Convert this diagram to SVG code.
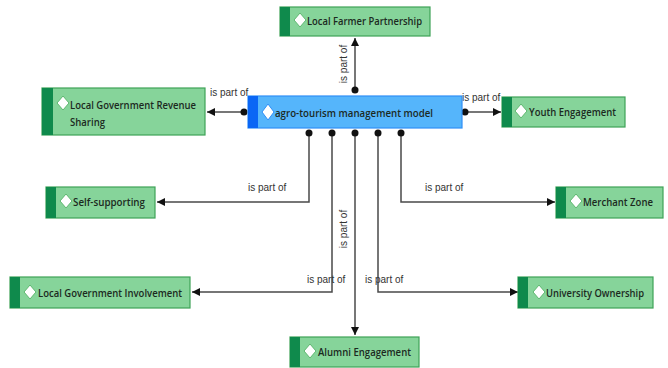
<svg xmlns="http://www.w3.org/2000/svg" width="668" height="368" viewBox="0 0 668 368">
<style>
.g{fill:#86d49a;stroke:#3fa257;stroke-width:1.2}
.gs{fill:#0f8a4c}
.b{fill:#55b5fb;stroke:#2f8ff7;stroke-width:1.2}
.bs{fill:#0a66f5}
.d{fill:#fff;stroke:#5fb870;stroke-width:1}
.db{fill:#fff;stroke:#2f8ff7;stroke-width:1}
.t{font-family:"Open Sans","Liberation Sans",Arial,sans-serif;font-weight:600;font-size:11px;fill:#1c2a1f;dominant-baseline:central}
.c{fill:none;stroke:#4a4a4a;stroke-width:1.5}
.l{font-family:"Liberation Sans",Arial,sans-serif;font-size:10px;fill:#333}
.p{fill:#111}
</style>
<defs>
<marker id="ah" viewBox="0 0 8 8" refX="8" refY="4" markerWidth="8" markerHeight="8" markerUnits="userSpaceOnUse" orient="auto"><path d="M0,0 L8,4 L0,8 z" fill="#111"/></marker>
</defs>
<g id="connectors">
<path class="c" d="M355,90 V38" marker-end="url(#ah)"/>
<circle class="p" cx="355" cy="90" r="3.5"/>
<text class="l" transform="translate(347,64) rotate(-90)" text-anchor="middle">is part of</text>
<path class="c" d="M244,112 H207" marker-end="url(#ah)"/>
<circle class="p" cx="244" cy="112" r="3.5"/>
<text class="l" x="210" y="96">is part of</text>
<path class="c" d="M465,112 H501" marker-end="url(#ah)"/>
<circle class="p" cx="465" cy="112" r="3.5"/>
<text class="l" x="462" y="101">is part of</text>
<path class="c" d="M309,133 V202 H157" marker-end="url(#ah)"/>
<circle class="p" cx="309" cy="133" r="3.5"/>
<text class="l" x="248" y="191">is part of</text>
<path class="c" d="M401,133 V202 H555" marker-end="url(#ah)"/>
<circle class="p" cx="401" cy="133" r="3.5"/>
<text class="l" x="425" y="191">is part of</text>
<path class="c" d="M332,133 V292 H192" marker-end="url(#ah)"/>
<circle class="p" cx="332" cy="133" r="3.5"/>
<text class="l" x="307" y="283">is part of</text>
<path class="c" d="M378,133 V292 H518" marker-end="url(#ah)"/>
<circle class="p" cx="378" cy="133" r="3.5"/>
<text class="l" x="365" y="283">is part of</text>
<path class="c" d="M355,133 V335" marker-end="url(#ah)"/>
<circle class="p" cx="355" cy="133" r="3.5"/>
<text class="l" transform="translate(347,229) rotate(-90)" text-anchor="middle">is part of</text>
</g>
<g id="main">
<rect class="b" x="248" y="96" width="214" height="32"/>
<rect class="bs" x="248" y="96" width="10" height="32"/>
<path class="db" d="M268,104 L274,112 L268,120 L262,112 z"/>
<text class="t" x="275" y="112" textLength="158" lengthAdjust="spacingAndGlyphs">agro-tourism management model</text>
</g>
<g id="n-farmer">
<rect class="g" x="280" y="7" width="150" height="29"/>
<rect class="gs" x="280" y="7" width="10" height="29"/>
<path class="d" d="M300,13 L306,20 L300,27 L294,20 z"/>
<text class="t" x="307" y="20" textLength="115" lengthAdjust="spacingAndGlyphs">Local Farmer Partnership</text>
</g>
<g id="n-revenue">
<rect class="g" x="42" y="88" width="163" height="47"/>
<rect class="gs" x="42" y="88" width="11" height="47"/>
<path class="d" d="M63,96 L69,103 L63,110 L57,103 z"/>
<text class="t" x="70" y="104" textLength="126" lengthAdjust="spacingAndGlyphs">Local Government Revenue</text>
<text class="t" x="70" y="121" textLength="35" lengthAdjust="spacingAndGlyphs">Sharing</text>
</g>
<g id="n-youth">
<rect class="g" x="502" y="97" width="123" height="30"/>
<rect class="gs" x="502" y="97" width="10" height="30"/>
<path class="d" d="M521,104 L527,111 L521,118 L515,111 z"/>
<text class="t" x="529" y="111" textLength="87" lengthAdjust="spacingAndGlyphs">Youth Engagement</text>
</g>
<g id="n-self">
<rect class="g" x="46" y="187" width="109" height="31"/>
<rect class="gs" x="46" y="187" width="10" height="31"/>
<path class="d" d="M66,194 L72,201 L66,208 L60,201 z"/>
<text class="t" x="73" y="201" textLength="72" lengthAdjust="spacingAndGlyphs">Self-supporting</text>
</g>
<g id="n-merchant">
<rect class="g" x="556" y="187" width="107" height="31"/>
<rect class="gs" x="556" y="187" width="10" height="31"/>
<path class="d" d="M576,194 L582,201 L576,208 L570,201 z"/>
<text class="t" x="583" y="201" textLength="70" lengthAdjust="spacingAndGlyphs">Merchant Zone</text>
</g>
<g id="n-involvement">
<rect class="g" x="10" y="277" width="180" height="31"/>
<rect class="gs" x="10" y="277" width="10" height="31"/>
<path class="d" d="M30,285 L36,292 L30,299 L24,292 z"/>
<text class="t" x="38" y="292" textLength="144" lengthAdjust="spacingAndGlyphs">Local Government Involvement</text>
</g>
<g id="n-university">
<rect class="g" x="518" y="277" width="135" height="31"/>
<rect class="gs" x="518" y="277" width="10" height="31"/>
<path class="d" d="M539,285 L545,292 L539,299 L533,292 z"/>
<text class="t" x="546" y="292" textLength="98" lengthAdjust="spacingAndGlyphs">University Ownership</text>
</g>
<g id="n-alumni">
<rect class="g" x="290" y="337" width="129" height="30"/>
<rect class="gs" x="290" y="337" width="10" height="30"/>
<path class="d" d="M310,344 L316,351 L310,358 L304,351 z"/>
<text class="t" x="318" y="351" textLength="93" lengthAdjust="spacingAndGlyphs">Alumni Engagement</text>
</g>
</svg>
